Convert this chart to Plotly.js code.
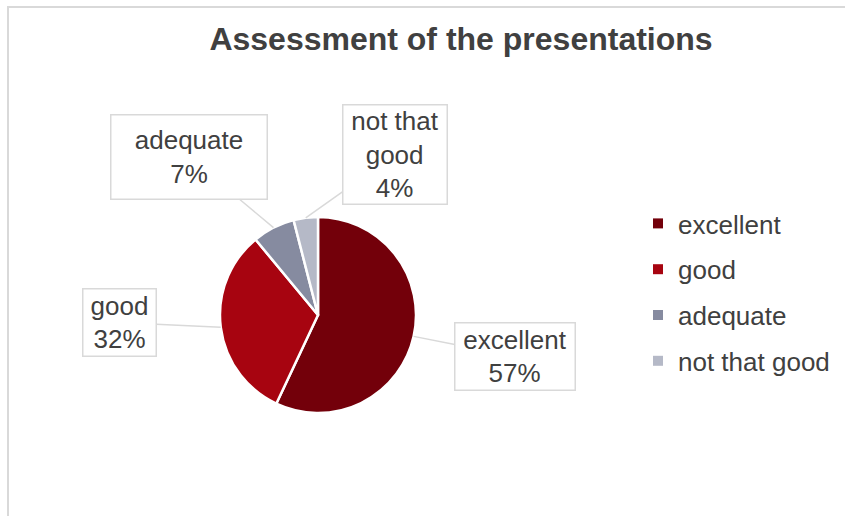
<!DOCTYPE html>
<html>
<head>
<meta charset="utf-8">
<script src="https://cdn.plot.ly/plotly-3.0.1.min.js"></script>
<style>
  html, body { margin: 0; padding: 0; background: #ffffff; }
  #frame { position: absolute; left: 7px; top: 6px; width: 900px; height: 600px;
           border-left: 2px solid #d9d9d9; border-top: 2px solid #d9d9d9; }
  #chart { position: absolute; left: 0; top: 0; width: 845px; height: 516px; }
</style>
</head>
<body>
<div id="frame"></div>
<div id="chart"></div>
<script>
// ---- data ----
const categories = ["excellent", "good", "adequate", "not that good"];
const values = [57, 32, 7, 4];
const colors = ["#73000a", "#a70410", "#868ba0", "#b5b9c7"];
const chartTitle = "Assessment of the presentations";

// ---- layout constants (pixels) ----
const W = 845, H = 516;
const cx = 318, cy = 315, r = 98;
// label box centres & sizes (pixels, page coords)
const boxes = [
  {cx: 515, cy: 356.5, w: 122, h: 69},
  {cx: 119.5, cy: 322.5, w: 75, h: 69},
  {cx: 189, cy: 157, w: 158, h: 86},
  {cx: 395, cy: 154.5, w: 106, h: 101}
];
const labelText = ["excellent", "good", "adequate", "not that<br>good"];

const total = values.reduce((a, b) => a + b, 0);
const textFont = {family: "Arial, 'Liberation Sans', sans-serif", size: 26, color: "#404040"};

const traces = [{
  type: "pie",
  labels: categories,
  values: values,
  sort: false,
  direction: "clockwise",
  rotation: 0,
  marker: {colors: colors, line: {color: "#ffffff", width: 2.5}},
  textinfo: "none",
  hoverinfo: "label+percent",
  showlegend: false,
  domain: {x: [(cx - r) / W, (cx + r) / W], y: [1 - (cy + r) / H, 1 - (cy - r) / H]}
}];

// legend entries via dummy traces
categories.forEach((c, i) => {
  traces.push({
    type: "scatter", mode: "markers", x: [null], y: [null],
    name: c, legendgroup: "g" + i,
    marker: {symbol: "square", size: 10, color: colors[i]},
    hoverinfo: "skip"
  });
});

// annotations with leader lines pointing to slice mid-angles
const annotations = [];
let cum = 0;
values.forEach((v, i) => {
  const mid = (cum + v / 2) / total * 2 * Math.PI;
  cum += v;
  const tx = cx + r * Math.sin(mid);
  const ty = cy - r * Math.cos(mid);
  const b = boxes[i];
  const pct = Math.round(v / total * 100) + "%";
  annotations.push({
    xref: "paper", yref: "paper",
    x: tx / W, y: 1 - ty / H,
    axref: "pixel", ayref: "pixel",
    ax: b.cx - tx, ay: b.cy - ty,
    text: labelText[i] + "<br>" + pct,
    showarrow: true, arrowhead: 0, arrowwidth: 1.5, arrowcolor: "#d9d9d9", standoff: 0,
    bordercolor: "#d9d9d9", borderwidth: 1.5, borderpad: 0,
    bgcolor: "#ffffff",
    width: b.w - 3, height: b.h - 3,
    align: "center", valign: "middle",
    font: textFont
  });
});

const layout = {
  width: W, height: H,
  margin: {l: 0, r: 0, t: 0, b: 0},
  paper_bgcolor: "rgba(0,0,0,0)",
  plot_bgcolor: "rgba(0,0,0,0)",
  title: {
    text: "<b>" + chartTitle + "</b>",
    x: 461 / W, xanchor: "center", y: 1 - 39 / H, yanchor: "middle",
    font: {family: "Arial, 'Liberation Sans', sans-serif", size: 32, color: "#404040"}
  },
  xaxis: {visible: false}, yaxis: {visible: false},
  showlegend: true,
  legend: {
    x: 638 / W, xanchor: "left", y: 1 - 200 / H, yanchor: "top",
    font: textFont, tracegroupgap: 9, bgcolor: "rgba(0,0,0,0)"
  },
  annotations: annotations
};

Plotly.newPlot("chart", traces, layout, {displayModeBar: false, staticPlot: true});
</script>
</body>
</html>
